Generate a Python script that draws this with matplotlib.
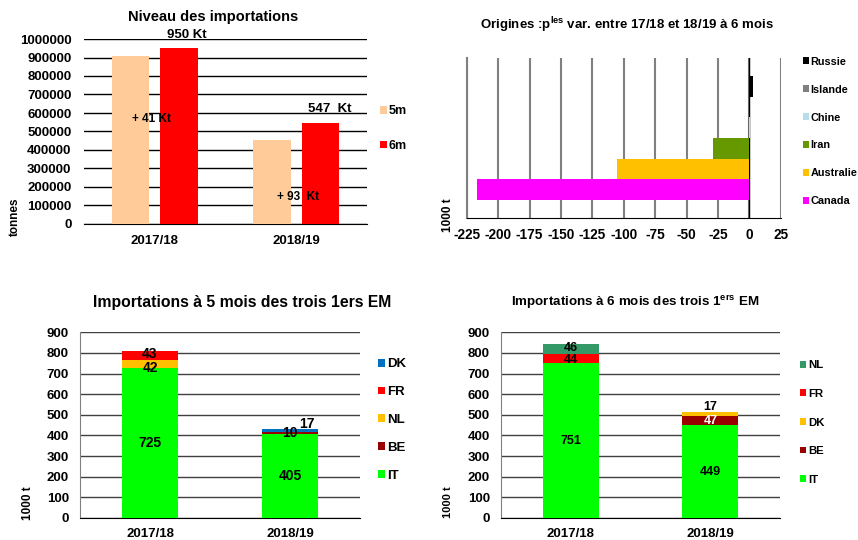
import numpy as np
import matplotlib
matplotlib.use('Agg')
import matplotlib.pyplot as plt

plt.rcParams['font.family'] = ['Liberation Sans', 'DejaVu Sans']
plt.rcParams['font.weight'] = 'bold'
plt.rcParams['axes.unicode_minus'] = False
plt.rcParams['mathtext.fontset'] = 'custom'
plt.rcParams['mathtext.rm'] = 'Liberation Sans:bold'
plt.rcParams['mathtext.bf'] = 'Liberation Sans:bold'

campagnes = ['2017/18', '2018/19']

# niveau des importations (tonnes)
import_5m = [909000, 454000]
import_6m = [950000, 547000]

# origines : principales variations entre 17/18 et 18/19 a 6 mois (1000 t)
origines = ['Canada', 'Australie', 'Iran', 'Chine', 'Islande', 'Russie']
variations = [-217, -105, -29, 0.6, -0.5, 3]
couleurs_orig = ['#FF00FF', '#FFC000', '#669900', '#B7DEE8', '#808080', '#000000']

# importations a 5 mois des trois 1ers EM (1000 t)
pays_5m = ['IT', 'BE', 'NL', 'FR', 'DK']
valeurs_5m = [[725, 405], [0, 10], [42, 0], [43, 0], [0, 17]]
couleurs_5m = ['#00FF00', '#990000', '#FFC000', '#FF0000', '#0070C0']

# importations a 6 mois des trois 1ers EM (1000 t)
pays_6m = ['IT', 'BE', 'DK', 'FR', 'NL']
valeurs_6m = [[751, 449], [0, 47], [0, 17], [44, 0], [46, 0]]
couleurs_6m = ['#00FF00', '#990000', '#FFC000', '#FF0000', '#339966']

W, H = 858, 540


def rect(x0, y0, x1, y1):
    # pixels (haut-gauche) -> coordonnees figure
    return [x0 / W, 1 - y1 / H, (x1 - x0) / W, (y1 - y0) / H]


def legende(ax, handles, labels, xpx, ypx, fs, ls, hl):
    ax.legend(handles, labels, loc='center left', bbox_to_anchor=(xpx / W, 1 - ypx / H),
              bbox_transform=fig.transFigure, frameon=False, fontsize=fs,
              labelspacing=ls, handlelength=hl, handleheight=hl,
              handletextpad=0.15, borderpad=0, borderaxespad=0)


def empile(ax, noms, valeurs, couleurs, fs, blanc=(), dx_haut=0.0, decale=None):
    decale = decale or {}
    x = np.arange(len(campagnes))
    bas = np.zeros(len(campagnes))
    barres = []
    for k, (nom, vals, c) in enumerate(zip(noms, valeurs, couleurs)):
        vals = np.array(vals, dtype=float)
        b = ax.bar(x, vals, 0.4, bottom=bas, color=c, label=nom, zorder=3)
        barres.append(b)
        for i, v in enumerate(vals):
            if v == 0:
                continue
            haut = not np.any(np.array([valeurs[j][i] for j in range(k + 1, len(valeurs))]))
            if haut and v < 25:
                ax.text(x[i] + dx_haut, bas[i] + v + 24, f'{v:.0f}', ha='center', va='center',
                        fontsize=fs, zorder=5)
            else:
                ax.text(x[i], bas[i] + v / 2 + decale.get((nom, i), 0), f'{v:.0f}',
                        ha='center', va='center', fontsize=fs,
                        color='white' if nom in blanc else 'black', zorder=5)
        bas += vals
    ax.set_xlim(-0.5, 1.5)
    ax.set_ylim(0, 900)
    ax.set_yticks(range(0, 901, 100))
    ax.set_xticks(x)
    ax.set_xticklabels(campagnes)
    ax.yaxis.grid(True, color='#404040', lw=1)
    ax.set_axisbelow(True)
    for s in ['top', 'right']:
        ax.spines[s].set_visible(False)
    ax.spines['left'].set_color('#808080')
    ax.spines['bottom'].set_color('black')
    ax.tick_params(length=0, labelsize=9.5)
    ax.tick_params(axis='x', pad=7)
    ax.tick_params(axis='y', pad=8)
    return barres


fig = plt.figure(figsize=(W / 100, H / 100), dpi=100)

# --- niveau des importations ---
ax1 = fig.add_axes(rect(84, 39, 367, 224))
x = np.arange(len(campagnes))
b5 = ax1.bar(x - 0.171, import_5m, 0.265, color='#FFCC99', zorder=3)
b6 = ax1.bar(x + 0.171, import_6m, 0.265, color='#FF0000', zorder=3)
ax1.set_xlim(-0.5, 1.5)
ax1.set_ylim(0, 1000000)
ax1.set_yticks(range(0, 1000001, 100000))
ax1.set_yticklabels([str(v) for v in range(0, 1000001, 100000)])
ax1.set_xticks(x)
ax1.set_xticklabels(campagnes)
ax1.yaxis.grid(True, color='black', lw=1)
ax1.set_axisbelow(True)
for s in ['top', 'right', 'left']:
    ax1.spines[s].set_visible(False)
ax1.tick_params(length=0, labelsize=9.5)
ax1.tick_params(axis='x', pad=8)
ax1.tick_params(axis='y', pad=9)
ax1.text(x[0] + 0.23, import_6m[0] + 72000, f'{import_6m[0] // 1000} Kt', ha='center', va='center', fontsize=9.5)
ax1.text(x[1] + 0.24, import_6m[1] + 75000, f'{import_6m[1] // 1000}  Kt', ha='center', va='center', fontsize=9.5)
ax1.text(x[0] - 0.02, 567000, f'+ {(import_6m[0] - import_5m[0]) // 1000} Kt', ha='center', va='center', fontsize=8.5)
ax1.text(x[1] + 0.01, 146000, f'+ {(import_6m[1] - import_5m[1]) // 1000}  Kt', ha='center', va='center', fontsize=8.5)
legende(ax1, [b5, b6], ['5m', '6m'], 380, 128.5, 9, 1.8, 0.55)
fig.text(213 / W, 1 - 17 / H, 'Niveau des importations', ha='center', va='center', fontsize=10.5)
fig.text(15 / W, 1 - 217 / H, 'tonnes', ha='center', va='center', rotation=90, fontsize=8.5)

# --- origines ---
ax2 = fig.add_axes(rect(466.7, 58, 780.7, 218))
y = np.arange(len(origines))
bo = ax2.barh(y, variations, height=1.0, color=couleurs_orig, zorder=3)
ax2.axvline(0, color='black', lw=1, zorder=2)
ax2.set_xlim(-225, 25)
ax2.set_ylim(-1.37, 6.37)
ax2.set_xticks(range(-225, 26, 25))
ax2.set_yticks([])
ax2.xaxis.grid(True, color='#808080', lw=1.5)
ax2.set_axisbelow(True)
for s in ['top', 'right']:
    ax2.spines[s].set_visible(False)
ax2.spines['left'].set_color('#808080')
ax2.spines['left'].set_linewidth(1.5)
ax2.tick_params(length=0, labelsize=9.8, pad=7)
legende(ax2, list(bo.patches)[::-1], origines[::-1], 802.7, 131.5, 7.8, 1.66, 0.55)
fig.text(627 / W, 1 - 25 / H, r'Origines :p$^{\mathbf{les}}$ var. entre 17/18 et 18/19 à 6 mois',
         ha='center', va='center', fontsize=9.5)
fig.text(448 / W, 1 - 215 / H, '1000 t', ha='center', va='center', rotation=90, fontsize=8.5)

# --- 5 mois ---
ax3 = fig.add_axes(rect(80, 332.3, 360, 518))
b3 = empile(ax3, pays_5m, valeurs_5m, couleurs_5m, 10, dx_haut=0.12,
            decale={('NL', 0): -21, ('FR', 0): 4})
legende(ax3, b3[::-1], pays_5m[::-1], 378, 420, 9.5, 1.2, 0.55)
fig.text(242 / W, 1 - 303 / H, 'Importations à 5 mois des trois 1ers EM', ha='center', va='center', fontsize=11.3)
fig.text(28 / W, 1 - 503 / H, '1000 t', ha='center', va='center', rotation=90, fontsize=8.5)

# --- 6 mois ---
ax4 = fig.add_axes(rect(501, 332.3, 780, 518))
b4 = empile(ax4, pays_6m, valeurs_6m, couleurs_6m, 9, blanc=('BE',),
            decale={('NL', 0): 5, ('FR', 0): -5})
legende(ax4, b4[::-1], pays_6m[::-1], 800, 422.5, 8.2, 1.63, 0.55)
fig.text(635 / W, 1 - 302 / H, r'Importations à 6 mois des trois 1$^{\mathbf{ers}}$ EM', ha='center', va='center', fontsize=9.6)
fig.text(448 / W, 1 - 502 / H, '1000 t', ha='center', va='center', rotation=90, fontsize=8)

fig.savefig('out.png', dpi=100)
